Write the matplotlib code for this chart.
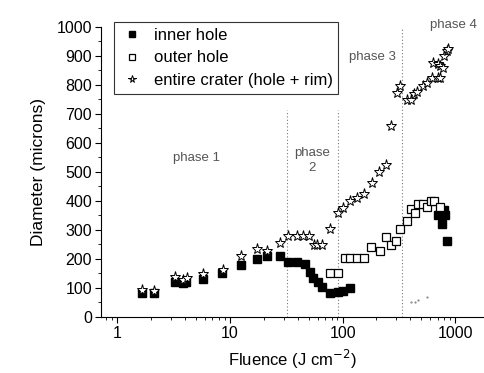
import matplotlib
matplotlib.use("Agg")
import matplotlib.pyplot as plt
from matplotlib.ticker import LogLocator, NullFormatter, MultipleLocator

# inner hole diameter (filled squares)
innerX = [1.66, 2.10, 3.23, 3.83, 4.09, 5.83, 8.49, 12.6, 17.4, 21.3, 27.9,
          33.1, 39.8, 46.6, 51.6, 54.5, 61.1, 66.3, 77.6, 92.0, 100.7, 116.8,
          705, 797, 803, 761, 842]
innerY = [82, 82, 120, 115, 118, 130, 151, 179, 199, 209, 209,
          189, 189, 181, 153, 135, 118, 101, 80, 86, 89, 100,
          351, 368, 351, 320, 262]

# outer hole diameter (open squares)
outerX = [77.6, 92.0, 104.2, 116.8, 133.6, 156, 179, 216, 242, 270, 300,
          326, 373, 406, 442, 468, 517, 560, 610, 645, 725]
outerY = [151, 151, 201, 204, 204, 201, 241, 226, 276, 249, 261,
          301, 331, 370, 359, 390, 390, 378, 400, 400, 378]

# entire crater, hole + rim (stars)
craterX = [1.66, 2.10, 3.23, 3.83, 4.2, 5.83, 8.6, 12.6, 17.4, 21.5, 27.8,
           33.1, 39.8, 44.3, 50.8, 55.3, 59.9, 66.3, 77.6, 92.0, 101.6,
           116.8, 133.6, 156, 182, 212, 244, 270, 303, 326,
           373, 406, 430, 460, 517, 560, 620, 700, 733, 640, 697, 733,
           780, 797, 842, 868]
craterY = [91, 89, 137, 128, 132, 146, 161, 209, 232, 227, 255,
           279, 279, 279, 279, 247, 247, 247, 301, 359, 374,
           400, 408, 425, 460, 500, 523, 657, 771, 796,
           748, 748, 768, 774, 797, 805, 823, 823, 823, 875, 871, 865,
           857, 900, 915, 923]

# stray points near the bottom of phase 4
strayX = [408, 442, 463, 560]
strayY = [49, 50, 59, 68]

# phase boundaries and labels
boundX = [32, 92, 336]
boundTop = [713, 713, 1000]
phaseText = ["phase 1", "phase\n2", "phase 3", "phase 4"]
phaseX = [5.1, 53.7, 183, 958]
phaseY = [547, 540, 896, 1007]

plt.rcParams["font.family"] = ["Liberation Sans", "DejaVu Sans"]

fig = plt.figure(figsize=(4.84, 3.73), dpi=100)
ax = fig.add_axes([0.209, 0.151, 0.791, 0.777])

ax.set_xscale("log")
ax.set_xlim(0.72, 1800)
ax.set_ylim(0, 1000)

for bx, bt in zip(boundX, boundTop):
    ax.plot([bx, bx], [0, bt], linestyle=(0, (1, 2)), color="#777777", linewidth=0.8)

ax.plot(innerX, innerY, linestyle="none", marker="s", markersize=5.5,
        color="black", label="inner hole")
ax.plot(outerX, outerY, linestyle="none", marker="s", markersize=6,
        markerfacecolor="white", markeredgecolor="black", markeredgewidth=0.9,
        label="outer hole")
ax.plot(craterX, craterY, linestyle="none", marker="*", markersize=8,
        markerfacecolor="white", markeredgecolor="black", markeredgewidth=0.7,
        label="entire crater (hole + rim)")
ax.plot(strayX, strayY, linestyle="none", marker=".", markersize=1.2,
        color="#888888")

for t, px, py in zip(phaseText, phaseX, phaseY):
    ax.text(px, py, t, ha="center", va="center", fontsize=9.5, color="#555555",
            linespacing=1.3)

ax.spines["top"].set_visible(False)
ax.spines["right"].set_visible(False)
ax.yaxis.set_major_locator(MultipleLocator(100))
ax.yaxis.set_minor_locator(MultipleLocator(50))
ax.xaxis.set_minor_locator(LogLocator(base=10, subs=range(2, 10)))
ax.xaxis.set_minor_formatter(NullFormatter())
ax.set_xticks([1, 10, 100, 1000])
ax.set_xticklabels(["1", "10", "100", "1000"])
ax.tick_params(which="major", direction="out", length=4, labelsize=11.5, pad=2.5)
ax.tick_params(which="minor", direction="out", length=2.5)

ax.set_xlabel(r"Fluence (J cm$^{-2}$)", fontsize=12, labelpad=5)
ax.set_ylabel("Diameter (microns)", fontsize=12.5, labelpad=8)

leg = ax.legend(loc="upper left", bbox_to_anchor=(0.013, 1.045), fontsize=12,
                frameon=True, fancybox=False, edgecolor="black",
                handlelength=1.4, borderpad=0.35, labelspacing=0.45,
                handletextpad=0.6, markerscale=0.7)
leg.get_frame().set_linewidth(0.8)

plt.savefig("out.png", dpi=100)
